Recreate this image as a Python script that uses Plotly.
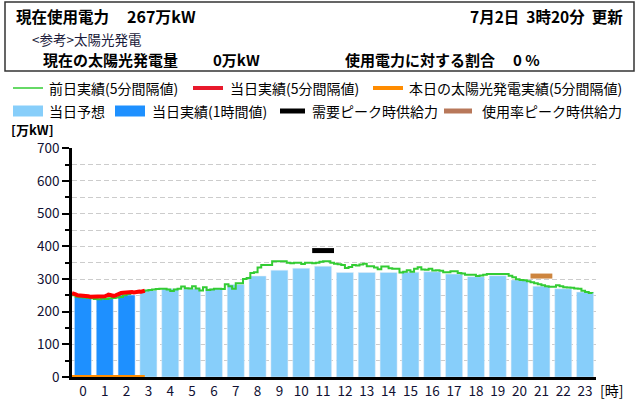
import plotly.graph_objects as go

# ---------------- data ----------------
hours = list(range(24))
actual_hours = [0, 1, 2]
actual_hourly = [246, 240, 251]                      # 当日実績(1時間値)
forecast_hours = list(range(3, 24))
forecast_hourly = [265, 270, 270, 270, 283, 309, 327, 333, 339, 320, 320,
                   320, 321, 322, 315, 307, 310, 297, 278, 270, 260]  # 当日予想

# 前日実績 (10-minute readings, 0:00 .. 23:50)
prev_day = [
    250, 246, 244, 243, 242, 241,
    239, 238, 240, 239, 241, 242,
    243, 245, 250, 254, 257, 259,
    261, 263, 265, 266, 268, 269,
    270, 270, 268, 263, 268, 270,
    277, 272, 271, 278, 271, 265,
    275, 266, 268, 270, 270, 269,
    284, 278, 270, 287, 287, 300,
    303, 318, 321, 335, 343, 343,
    343, 354, 354, 354, 354, 350,
    348, 350, 350, 346, 350, 350,
    348, 350, 353, 354, 354, 350,
    347, 345, 343, 334, 337, 343,
    341, 344, 347, 339, 339, 335,
    330, 338, 338, 333, 331, 331,
    320, 322, 327, 322, 331, 336,
    329, 328, 331, 326, 327, 325,
    321, 321, 324, 324, 318, 317,
    313, 313, 313, 309, 311, 313,
    315, 315, 315, 315, 315, 315,
    310, 305, 299, 297, 296, 293,
    290, 287, 284, 281, 278, 276,
    276, 281, 278, 275, 274, 273,
    271, 270, 264, 260, 257, 256,
]
prev_step_min = 10

# 当日実績 (5-minute readings, 0:00 .. 3:20)
today = [257, 256, 253, 250, 250, 249, 250, 248, 247, 247, 246, 246,
         245, 247, 246, 245, 244, 246, 247, 249, 252, 251, 248, 248,
         250, 253, 256, 257, 258, 259, 259, 259, 260, 260, 259, 261,
         260, 262, 261, 263, 264]
today_step_min = 5

# 本日の太陽光発電実績 (5-minute readings, 0:00 .. 3:20)
solar = [0] * 41

demand_peak_hour, demand_peak_supply = 11, 387     # 需要ピーク時供給力
usage_peak_hour, usage_peak_supply = 21, 309       # 使用率ピーク時供給力

y_ticks = [0, 100, 200, 300, 400, 500, 600, 700]

# ---------------- styling ----------------
FONT = "Noto Sans CJK JP"
C_GREEN = "#33cc33"
C_RED = "#ff0000"
C_ORANGE = "#ff8c00"
C_LIGHT = "#87cefa"
C_DARK = "#1e90ff"
C_BLACK = "#000000"
C_BROWN = "#cd853f"

W, H = 640, 420
L, R, T, B = 72, 596, 148, 377


def px(x):
    return (x - L) / (R - L)


def py(y):
    return (B - y) / (B - T)


def to_x(step, n):
    return [i * step / 60 - 0.5 for i in range(n)]


fig = go.Figure()
fig.add_bar(x=forecast_hours, y=forecast_hourly, marker_color=C_LIGHT,
            width=0.78, name="当日予想")
fig.add_bar(x=actual_hours, y=actual_hourly, marker_color=C_DARK,
            width=0.78, name="当日実績(1時間値)")
fig.add_scatter(x=to_x(prev_step_min, len(prev_day)), y=prev_day, mode="lines",
                line=dict(color=C_GREEN, width=2, shape="hv"), name="前日実績(5分間隔値)")
fig.add_scatter(x=to_x(today_step_min, len(today)), y=today, mode="lines",
                line=dict(color=C_RED, width=4), name="当日実績(5分間隔値)")
fig.add_scatter(x=to_x(today_step_min, len(solar)), y=solar, mode="lines",
                line=dict(color=C_ORANGE, width=4), name="本日の太陽光発電実績(5分間隔値)",
                cliponaxis=False)
fig.add_scatter(x=[demand_peak_hour - 0.5, demand_peak_hour + 0.5],
                y=[demand_peak_supply] * 2, mode="lines",
                line=dict(color=C_BLACK, width=5), name="需要ピーク時供給力")
fig.add_scatter(x=[usage_peak_hour - 0.5, usage_peak_hour + 0.5],
                y=[usage_peak_supply] * 2, mode="lines",
                line=dict(color=C_BROWN, width=5), name="使用率ピーク時供給力")

shapes = []
annotations = []

# header box
shapes.append(dict(type="rect", xref="paper", yref="paper",
                   x0=px(5), x1=px(634), y0=py(2), y1=py(71),
                   line=dict(color="#333333", width=1.5), fillcolor="rgba(0,0,0,0)"))


def text(x, y, s, size=13, bold=False, anchor="left", color="#000000"):
    annotations.append(dict(
        xref="paper", yref="paper", x=px(x), y=py(y), text=("<b>%s</b>" % s) if bold else s,
        showarrow=False, xanchor=anchor, yanchor="middle", borderpad=0,
        font=dict(family=FONT, size=size, color=color)))


text(15, 16, "現在使用電力", 15.5, True)
text(126, 16, "267万kW", 16, True)
text(624, 16, "7月2日  3時20分  更新", 15.5, True, anchor="right")
text(31, 39, "&lt;参考&gt;太陽光発電", 13.5, False, color="#1a1a3a")
text(42, 59, "現在の太陽光発電量", 15, True)
text(212, 59, "0万kW", 15, True)
text(344, 59, "使用電力に対する割合", 15, True)
text(512, 59, "0 %", 15, True)

# legend
def leg_line(x0, x1, y, color, width):
    shapes.append(dict(type="line", xref="paper", yref="paper",
                       x0=px(x0), x1=px(x1), y0=py(y), y1=py(y),
                       line=dict(color=color, width=width)))


def leg_box(x0, x1, y, color):
    shapes.append(dict(type="rect", xref="paper", yref="paper",
                       x0=px(x0), x1=px(x1), y0=py(y + 5.5), y1=py(y - 5.5),
                       line=dict(width=0), fillcolor=color))


ly1, ly2 = 88, 111
leg_line(13, 43, ly1, C_GREEN, 1.5)
text(48, ly1, "前日実績(5分間隔値)", 14)
leg_line(193, 223, ly1, "#e8192c", 4)
text(229, ly1, "当日実績(5分間隔値)", 14)
leg_line(373, 403, ly1, C_ORANGE, 4)
text(408, ly1, "本日の太陽光発電実績(5分間隔値)", 14)

leg_box(13, 43, ly2, C_LIGHT)
text(48, ly2, "当日予想", 14)
leg_box(115, 145, ly2, C_DARK)
text(151, ly2, "当日実績(1時間値)", 14)
leg_line(280, 305, ly2, C_BLACK, 5)
text(311, ly2, "需要ピーク時供給力", 14)
leg_line(444, 472, ly2, "#b8785a", 5)
text(481, ly2, "使用率ピーク時供給力", 14)

text(10, 129.5, "[万kW]", 13, True)
text(599, 390, "[時]", 14, False)

fig.update_layout(
    width=W, height=H,
    margin=dict(l=L, r=W - R, t=T, b=H - B, pad=0),
    paper_bgcolor="white", plot_bgcolor="white",
    showlegend=False, barmode="overlay",
    font=dict(family=FONT, size=13, color="#111111"),
    shapes=shapes, annotations=annotations,
    xaxis=dict(range=[-0.5, 23.5], tickmode="array", tickvals=hours,
               ticktext=[str(h) for h in hours], ticks="", showgrid=False,
               showline=True, linecolor="#000000", linewidth=3,
               zeroline=False, layer="below traces",
               tickfont=dict(family=FONT, size=13.5, color="#111133"), fixedrange=True),
    yaxis=dict(range=[0, 701], tickmode="array", tickvals=y_ticks,
               ticks="outside", ticklen=7, tickwidth=2, tickcolor="#000000",
               showline=True, linecolor="#000000", linewidth=2.5,
               showgrid=True, gridcolor="#cccccc", griddash="5px,3px", gridwidth=1,
               zeroline=False,
               minor=dict(dtick=50, ticks="outside", ticklen=4, tickwidth=2,
                          tickcolor="#000000", showgrid=True, gridcolor="#cccccc",
                          griddash="5px,3px", gridwidth=1),
               tickfont=dict(family=FONT, size=13.5, color="#111133"), fixedrange=True),
)

fig.write_html("out.html")
